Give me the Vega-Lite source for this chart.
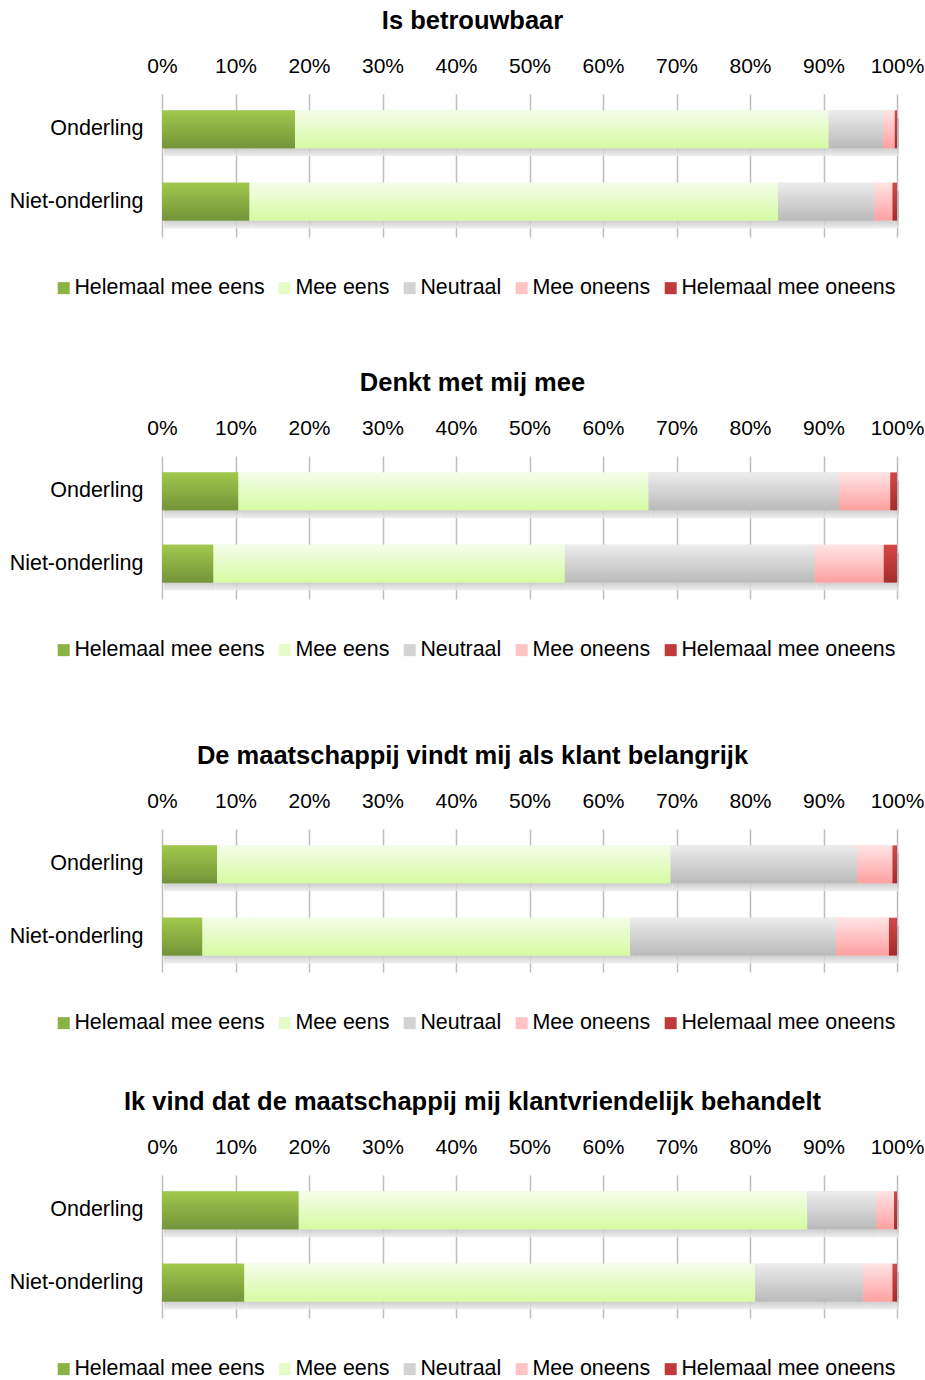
{
  "$schema": "https://vega.github.io/schema/vega-lite/v6.json",
  "padding": {"left": 9, "top": 8, "right": 0, "bottom": 0},
  "background": "white",
  "data": {"values": [
    {"q": 1, "group": "Onderling", "answer": "Helemaal mee eens", "rank": 1, "value": 18.1},
    {"q": 1, "group": "Onderling", "answer": "Mee eens", "rank": 2, "value": 72.6},
    {"q": 1, "group": "Onderling", "answer": "Neutraal", "rank": 3, "value": 7.4},
    {"q": 1, "group": "Onderling", "answer": "Mee oneens", "rank": 4, "value": 1.6},
    {"q": 1, "group": "Onderling", "answer": "Helemaal mee oneens", "rank": 5, "value": 0.3},
    {"q": 1, "group": "Niet-onderling", "answer": "Helemaal mee eens", "rank": 1, "value": 11.9},
    {"q": 1, "group": "Niet-onderling", "answer": "Mee eens", "rank": 2, "value": 71.9},
    {"q": 1, "group": "Niet-onderling", "answer": "Neutraal", "rank": 3, "value": 13.1},
    {"q": 1, "group": "Niet-onderling", "answer": "Mee oneens", "rank": 4, "value": 2.5},
    {"q": 1, "group": "Niet-onderling", "answer": "Helemaal mee oneens", "rank": 5, "value": 0.6},
    {"q": 2, "group": "Onderling", "answer": "Helemaal mee eens", "rank": 1, "value": 10.4},
    {"q": 2, "group": "Onderling", "answer": "Mee eens", "rank": 2, "value": 55.8},
    {"q": 2, "group": "Onderling", "answer": "Neutraal", "rank": 3, "value": 25.9},
    {"q": 2, "group": "Onderling", "answer": "Mee oneens", "rank": 4, "value": 7.0},
    {"q": 2, "group": "Onderling", "answer": "Helemaal mee oneens", "rank": 5, "value": 0.9},
    {"q": 2, "group": "Niet-onderling", "answer": "Helemaal mee eens", "rank": 1, "value": 7.0},
    {"q": 2, "group": "Niet-onderling", "answer": "Mee eens", "rank": 2, "value": 47.8},
    {"q": 2, "group": "Niet-onderling", "answer": "Neutraal", "rank": 3, "value": 34.0},
    {"q": 2, "group": "Niet-onderling", "answer": "Mee oneens", "rank": 4, "value": 9.4},
    {"q": 2, "group": "Niet-onderling", "answer": "Helemaal mee oneens", "rank": 5, "value": 1.8},
    {"q": 3, "group": "Onderling", "answer": "Helemaal mee eens", "rank": 1, "value": 7.5},
    {"q": 3, "group": "Onderling", "answer": "Mee eens", "rank": 2, "value": 61.7},
    {"q": 3, "group": "Onderling", "answer": "Neutraal", "rank": 3, "value": 25.4},
    {"q": 3, "group": "Onderling", "answer": "Mee oneens", "rank": 4, "value": 4.8},
    {"q": 3, "group": "Onderling", "answer": "Helemaal mee oneens", "rank": 5, "value": 0.6},
    {"q": 3, "group": "Niet-onderling", "answer": "Helemaal mee eens", "rank": 1, "value": 5.5},
    {"q": 3, "group": "Niet-onderling", "answer": "Mee eens", "rank": 2, "value": 58.2},
    {"q": 3, "group": "Niet-onderling", "answer": "Neutraal", "rank": 3, "value": 28.0},
    {"q": 3, "group": "Niet-onderling", "answer": "Mee oneens", "rank": 4, "value": 7.2},
    {"q": 3, "group": "Niet-onderling", "answer": "Helemaal mee oneens", "rank": 5, "value": 1.1},
    {"q": 4, "group": "Onderling", "answer": "Helemaal mee eens", "rank": 1, "value": 18.6},
    {"q": 4, "group": "Onderling", "answer": "Mee eens", "rank": 2, "value": 69.2},
    {"q": 4, "group": "Onderling", "answer": "Neutraal", "rank": 3, "value": 9.4},
    {"q": 4, "group": "Onderling", "answer": "Mee oneens", "rank": 4, "value": 2.4},
    {"q": 4, "group": "Onderling", "answer": "Helemaal mee oneens", "rank": 5, "value": 0.4},
    {"q": 4, "group": "Niet-onderling", "answer": "Helemaal mee eens", "rank": 1, "value": 11.2},
    {"q": 4, "group": "Niet-onderling", "answer": "Mee eens", "rank": 2, "value": 69.5},
    {"q": 4, "group": "Niet-onderling", "answer": "Neutraal", "rank": 3, "value": 14.7},
    {"q": 4, "group": "Niet-onderling", "answer": "Mee oneens", "rank": 4, "value": 4.0},
    {"q": 4, "group": "Niet-onderling", "answer": "Helemaal mee oneens", "rank": 5, "value": 0.6}
  ]},
  "spacing": 82,
  "resolve": {"legend": {"color": "independent"}},
  "vconcat": [
    {
      "spacing": 71,
      "resolve": {"legend": {"color": "independent"}},
      "vconcat": [
        {
          "title": {"text": "Is betrouwbaar"},
          "width": 735, "height": 143,
          "transform": [{"filter": "datum.q == 1"}],
          "encoding": {
            "y": {"field": "group", "type": "nominal", "sort": ["Onderling", "Niet-onderling"], "title": null, "scale": {"paddingInner": 0.48, "paddingOuter": 0.23}},
            "x": {"field": "value", "type": "quantitative", "stack": "zero", "scale": {"domain": [0, 100]}, "title": null, "axis": {"orient": "top", "values": [0, 10, 20, 30, 40, 50, 60, 70, 80, 90, 100], "labelExpr": "datum.value + '%'"}},
            "order": {"field": "rank", "type": "quantitative"}
          },
          "layer": [
            {"mark": {"type": "bar", "xOffset": 2, "yOffset": 8, "opacity": 0.85, "color": {"gradient": "linear", "x1": 0, "y1": 0, "x2": 0, "y2": 1, "stops": [{"offset": 0, "color": "#b4b4b4"}, {"offset": 0.7, "color": "#b4b4b4"}, {"offset": 1, "color": "#ededed"}]}},
             "encoding": {"detail": {"field": "answer", "type": "nominal"}}},
            {"mark": {"type": "bar"},
             "encoding": {"color": {"field": "answer", "type": "nominal", "sort": ["Helemaal mee eens", "Mee eens", "Neutraal", "Mee oneens", "Helemaal mee oneens"],
               "scale": {"domain": ["Helemaal mee eens", "Mee eens", "Neutraal", "Mee oneens", "Helemaal mee oneens"], "range": ["#8ab244", "#e6fcc8", "#d3d3d3", "#ffc3c3", "#bf3b3b"]},
               "legend": {"orient": "none", "legendX": -109, "legendY": 183, "direction": "horizontal", "columns": 5, "title": null}}}},
            {"mark": {"type": "bar"},
             "encoding": {"detail": {"field": "answer", "type": "nominal"}, "color": {"condition": [
               {"test": "datum.answer === 'Helemaal mee eens'", "value": {"gradient": "linear", "x1": 0, "y1": 0, "x2": 0, "y2": 1, "stops": [{"offset": 0, "color": "#a0c84c"}, {"offset": 1, "color": "#74943a"}]}},
               {"test": "datum.answer === 'Mee eens'", "value": {"gradient": "linear", "x1": 0, "y1": 0, "x2": 0, "y2": 1, "stops": [{"offset": 0, "color": "#f4fdea"}, {"offset": 1, "color": "#d6fba2"}]}},
               {"test": "datum.answer === 'Neutraal'", "value": {"gradient": "linear", "x1": 0, "y1": 0, "x2": 0, "y2": 1, "stops": [{"offset": 0, "color": "#ececec"}, {"offset": 1, "color": "#bababa"}]}},
               {"test": "datum.answer === 'Mee oneens'", "value": {"gradient": "linear", "x1": 0, "y1": 0, "x2": 0, "y2": 1, "stops": [{"offset": 0, "color": "#ffe4e4"}, {"offset": 1, "color": "#ffa0a0"}]}}],
               "value": {"gradient": "linear", "x1": 0, "y1": 0, "x2": 0, "y2": 1, "stops": [{"offset": 0, "color": "#d44848"}, {"offset": 1, "color": "#a52d2d"}]}}}}
          ]
        },
        {
          "title": {"text": "Denkt met mij mee"},
          "width": 735, "height": 143,
          "transform": [{"filter": "datum.q == 2"}],
          "encoding": {
            "y": {"field": "group", "type": "nominal", "sort": ["Onderling", "Niet-onderling"], "title": null, "scale": {"paddingInner": 0.48, "paddingOuter": 0.23}},
            "x": {"field": "value", "type": "quantitative", "stack": "zero", "scale": {"domain": [0, 100]}, "title": null, "axis": {"orient": "top", "values": [0, 10, 20, 30, 40, 50, 60, 70, 80, 90, 100], "labelExpr": "datum.value + '%'"}},
            "order": {"field": "rank", "type": "quantitative"}
          },
          "layer": [
            {"mark": {"type": "bar", "xOffset": 2, "yOffset": 8, "opacity": 0.85, "color": {"gradient": "linear", "x1": 0, "y1": 0, "x2": 0, "y2": 1, "stops": [{"offset": 0, "color": "#b4b4b4"}, {"offset": 0.7, "color": "#b4b4b4"}, {"offset": 1, "color": "#ededed"}]}},
             "encoding": {"detail": {"field": "answer", "type": "nominal"}}},
            {"mark": {"type": "bar"},
             "encoding": {"color": {"field": "answer", "type": "nominal", "sort": ["Helemaal mee eens", "Mee eens", "Neutraal", "Mee oneens", "Helemaal mee oneens"],
               "scale": {"domain": ["Helemaal mee eens", "Mee eens", "Neutraal", "Mee oneens", "Helemaal mee oneens"], "range": ["#8ab244", "#e6fcc8", "#d3d3d3", "#ffc3c3", "#bf3b3b"]},
               "legend": {"orient": "none", "legendX": -109, "legendY": 183, "direction": "horizontal", "columns": 5, "title": null}}}},
            {"mark": {"type": "bar"},
             "encoding": {"detail": {"field": "answer", "type": "nominal"}, "color": {"condition": [
               {"test": "datum.answer === 'Helemaal mee eens'", "value": {"gradient": "linear", "x1": 0, "y1": 0, "x2": 0, "y2": 1, "stops": [{"offset": 0, "color": "#a0c84c"}, {"offset": 1, "color": "#74943a"}]}},
               {"test": "datum.answer === 'Mee eens'", "value": {"gradient": "linear", "x1": 0, "y1": 0, "x2": 0, "y2": 1, "stops": [{"offset": 0, "color": "#f4fdea"}, {"offset": 1, "color": "#d6fba2"}]}},
               {"test": "datum.answer === 'Neutraal'", "value": {"gradient": "linear", "x1": 0, "y1": 0, "x2": 0, "y2": 1, "stops": [{"offset": 0, "color": "#ececec"}, {"offset": 1, "color": "#bababa"}]}},
               {"test": "datum.answer === 'Mee oneens'", "value": {"gradient": "linear", "x1": 0, "y1": 0, "x2": 0, "y2": 1, "stops": [{"offset": 0, "color": "#ffe4e4"}, {"offset": 1, "color": "#ffa0a0"}]}}],
               "value": {"gradient": "linear", "x1": 0, "y1": 0, "x2": 0, "y2": 1, "stops": [{"offset": 0, "color": "#d44848"}, {"offset": 1, "color": "#a52d2d"}]}}}}
          ]
        }
      ]
    },
    {
      "spacing": 55,
      "resolve": {"legend": {"color": "independent"}},
      "vconcat": [
        {
          "title": {"text": "De maatschappij vindt mij als klant belangrijk"},
          "width": 735, "height": 143,
          "transform": [{"filter": "datum.q == 3"}],
          "encoding": {
            "y": {"field": "group", "type": "nominal", "sort": ["Onderling", "Niet-onderling"], "title": null, "scale": {"paddingInner": 0.48, "paddingOuter": 0.23}},
            "x": {"field": "value", "type": "quantitative", "stack": "zero", "scale": {"domain": [0, 100]}, "title": null, "axis": {"orient": "top", "values": [0, 10, 20, 30, 40, 50, 60, 70, 80, 90, 100], "labelExpr": "datum.value + '%'"}},
            "order": {"field": "rank", "type": "quantitative"}
          },
          "layer": [
            {"mark": {"type": "bar", "xOffset": 2, "yOffset": 8, "opacity": 0.85, "color": {"gradient": "linear", "x1": 0, "y1": 0, "x2": 0, "y2": 1, "stops": [{"offset": 0, "color": "#b4b4b4"}, {"offset": 0.7, "color": "#b4b4b4"}, {"offset": 1, "color": "#ededed"}]}},
             "encoding": {"detail": {"field": "answer", "type": "nominal"}}},
            {"mark": {"type": "bar"},
             "encoding": {"color": {"field": "answer", "type": "nominal", "sort": ["Helemaal mee eens", "Mee eens", "Neutraal", "Mee oneens", "Helemaal mee oneens"],
               "scale": {"domain": ["Helemaal mee eens", "Mee eens", "Neutraal", "Mee oneens", "Helemaal mee oneens"], "range": ["#8ab244", "#e6fcc8", "#d3d3d3", "#ffc3c3", "#bf3b3b"]},
               "legend": {"orient": "none", "legendX": -109, "legendY": 183, "direction": "horizontal", "columns": 5, "title": null}}}},
            {"mark": {"type": "bar"},
             "encoding": {"detail": {"field": "answer", "type": "nominal"}, "color": {"condition": [
               {"test": "datum.answer === 'Helemaal mee eens'", "value": {"gradient": "linear", "x1": 0, "y1": 0, "x2": 0, "y2": 1, "stops": [{"offset": 0, "color": "#a0c84c"}, {"offset": 1, "color": "#74943a"}]}},
               {"test": "datum.answer === 'Mee eens'", "value": {"gradient": "linear", "x1": 0, "y1": 0, "x2": 0, "y2": 1, "stops": [{"offset": 0, "color": "#f4fdea"}, {"offset": 1, "color": "#d6fba2"}]}},
               {"test": "datum.answer === 'Neutraal'", "value": {"gradient": "linear", "x1": 0, "y1": 0, "x2": 0, "y2": 1, "stops": [{"offset": 0, "color": "#ececec"}, {"offset": 1, "color": "#bababa"}]}},
               {"test": "datum.answer === 'Mee oneens'", "value": {"gradient": "linear", "x1": 0, "y1": 0, "x2": 0, "y2": 1, "stops": [{"offset": 0, "color": "#ffe4e4"}, {"offset": 1, "color": "#ffa0a0"}]}}],
               "value": {"gradient": "linear", "x1": 0, "y1": 0, "x2": 0, "y2": 1, "stops": [{"offset": 0, "color": "#d44848"}, {"offset": 1, "color": "#a52d2d"}]}}}}
          ]
        },
        {
          "title": {"text": "Ik vind dat de maatschappij mij klantvriendelijk behandelt"},
          "width": 735, "height": 143,
          "transform": [{"filter": "datum.q == 4"}],
          "encoding": {
            "y": {"field": "group", "type": "nominal", "sort": ["Onderling", "Niet-onderling"], "title": null, "scale": {"paddingInner": 0.48, "paddingOuter": 0.23}},
            "x": {"field": "value", "type": "quantitative", "stack": "zero", "scale": {"domain": [0, 100]}, "title": null, "axis": {"orient": "top", "values": [0, 10, 20, 30, 40, 50, 60, 70, 80, 90, 100], "labelExpr": "datum.value + '%'"}},
            "order": {"field": "rank", "type": "quantitative"}
          },
          "layer": [
            {"mark": {"type": "bar", "xOffset": 2, "yOffset": 8, "opacity": 0.85, "color": {"gradient": "linear", "x1": 0, "y1": 0, "x2": 0, "y2": 1, "stops": [{"offset": 0, "color": "#b4b4b4"}, {"offset": 0.7, "color": "#b4b4b4"}, {"offset": 1, "color": "#ededed"}]}},
             "encoding": {"detail": {"field": "answer", "type": "nominal"}}},
            {"mark": {"type": "bar"},
             "encoding": {"color": {"field": "answer", "type": "nominal", "sort": ["Helemaal mee eens", "Mee eens", "Neutraal", "Mee oneens", "Helemaal mee oneens"],
               "scale": {"domain": ["Helemaal mee eens", "Mee eens", "Neutraal", "Mee oneens", "Helemaal mee oneens"], "range": ["#8ab244", "#e6fcc8", "#d3d3d3", "#ffc3c3", "#bf3b3b"]},
               "legend": {"orient": "none", "legendX": -109, "legendY": 183, "direction": "horizontal", "columns": 5, "title": null}}}},
            {"mark": {"type": "bar"},
             "encoding": {"detail": {"field": "answer", "type": "nominal"}, "color": {"condition": [
               {"test": "datum.answer === 'Helemaal mee eens'", "value": {"gradient": "linear", "x1": 0, "y1": 0, "x2": 0, "y2": 1, "stops": [{"offset": 0, "color": "#a0c84c"}, {"offset": 1, "color": "#74943a"}]}},
               {"test": "datum.answer === 'Mee eens'", "value": {"gradient": "linear", "x1": 0, "y1": 0, "x2": 0, "y2": 1, "stops": [{"offset": 0, "color": "#f4fdea"}, {"offset": 1, "color": "#d6fba2"}]}},
               {"test": "datum.answer === 'Neutraal'", "value": {"gradient": "linear", "x1": 0, "y1": 0, "x2": 0, "y2": 1, "stops": [{"offset": 0, "color": "#ececec"}, {"offset": 1, "color": "#bababa"}]}},
               {"test": "datum.answer === 'Mee oneens'", "value": {"gradient": "linear", "x1": 0, "y1": 0, "x2": 0, "y2": 1, "stops": [{"offset": 0, "color": "#ffe4e4"}, {"offset": 1, "color": "#ffa0a0"}]}}],
               "value": {"gradient": "linear", "x1": 0, "y1": 0, "x2": 0, "y2": 1, "stops": [{"offset": 0, "color": "#d44848"}, {"offset": 1, "color": "#a52d2d"}]}}}}
          ]
        }
      ]
    }
  ],
  "config": {
    "font": "Liberation Sans",
    "view": {"stroke": null},
    "title": {"fontSize": 25.5, "fontWeight": "bold", "color": "#000000", "anchor": "middle", "offset": 21, "dx": -57},
    "axis": {"domain": false, "ticks": false, "labelFontSize": 21, "labelColor": "#000000", "labelFont": "Liberation Sans", "labelOverlap": false},
    "axisX": {"grid": true, "gridColor": "#bdbdbd", "gridWidth": 1.5, "labelPadding": 18, "labelFlush": false},
    "axisY": {"grid": false, "labelPadding": 19, "labelFontSize": 21.5},
    "legend": {"symbolType": "square", "symbolSize": 144, "symbolStrokeWidth": 0, "labelFontSize": 21.4, "labelLimit": 0, "labelColor": "#000000", "labelOffset": 0, "columnPadding": 9, "padding": 0, "labelFont": "Liberation Sans"}
  }
}
